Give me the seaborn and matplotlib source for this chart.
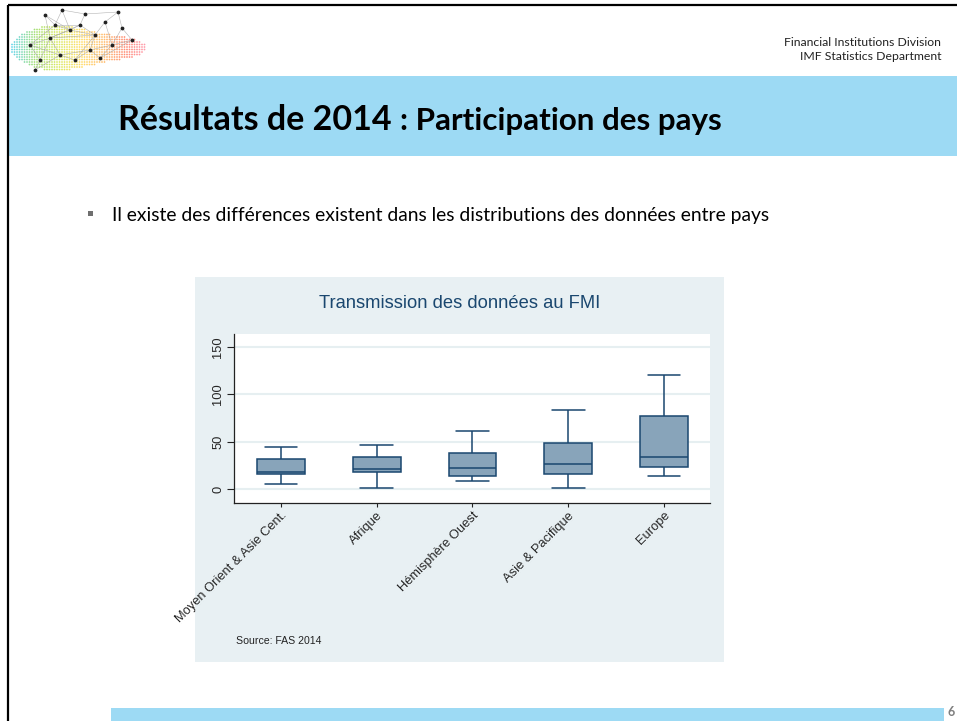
import numpy as np
import pandas as pd
import matplotlib as mpl
mpl.use('Agg')
import matplotlib.pyplot as plt
from matplotlib.colors import LinearSegmentedColormap
from matplotlib.patches import Rectangle
import seaborn as sns

# données (min, quartiles, max par région)
regions = ['Moyen Orient & Asie Cent.', 'Afrique', 'Hémisphère Ouest',
           'Asie & Pacifique', 'Europe']
val_min = [6, 1, 9, 1, 14]
val_q1 = [16, 18, 14, 16, 23]
val_median = [18, 21, 22, 27, 34]
val_q3 = [32, 34, 38, 49, 77]
val_max = [45, 47, 61, 84, 120]
yticks = [0, 50, 100, 150]

chart_title = 'Transmission des données au FMI'
source_note = 'Source: FAS 2014'
bullet_text = 'Il existe des différences existent dans les distributions des données entre pays'

# couleurs
band_blue = '#9ddaf4'
panel_bg = '#e8f0f3'
navy = '#1a476f'
box_fill = '#88a4ba'


def build_frame():
    """table longue pour seaborn : 5 valeurs par région -> quartiles exacts"""
    rows = []
    for i, reg in enumerate(regions):
        for v in (val_min[i], val_q1[i], val_median[i], val_q3[i], val_max[i]):
            rows.append({'region': reg, 'value': v})
    return pd.DataFrame(rows)


def draw_logo(bg):
    """petit logo réseau en haut à gauche (approximation)"""
    cmap = LinearSegmentedColormap.from_list(
        'logo', ['#1fc2e0', '#7fd23a', '#c8e01e', '#ffd02a', '#ffa030', '#ff5a3c', '#ff7aa0'])
    xs, ys, cs = [], [], []
    for x in np.arange(12, 150, 2.5):
        for y in np.arange(22, 74, 2.5):
            cx, cy = 78, 48
            if ((x - cx) / 68) ** 2 + ((y - cy) / (20 + 5 * np.sin(x / 25))) ** 2 < 1:
                xs.append(x)
                ys.append(y)
                cs.append(cmap((x - 12) / 138))
    bg.scatter(xs, ys, s=1.6, c=cs, alpha=0.7, linewidths=0, zorder=2)
    nodes = [(30, 45), (45, 15), (50, 38), (62, 10), (70, 30), (80, 25), (85, 14),
             (95, 35), (105, 22), (112, 45), (122, 28), (132, 40), (60, 55),
             (75, 60), (40, 60), (90, 50), (55, 25), (100, 58), (118, 12), (35, 70)]
    pairs = [(0, 2), (2, 4), (1, 2), (3, 4), (4, 5), (5, 6), (5, 7), (7, 8), (8, 9),
             (9, 10), (10, 11), (2, 12), (12, 13), (0, 14), (13, 15), (7, 15), (16, 4),
             (16, 1), (15, 17), (8, 18), (6, 18), (14, 19), (12, 19), (2, 7), (0, 16),
             (11, 17), (3, 16), (12, 15), (4, 7), (9, 17), (1, 4), (2, 5), (0, 12),
             (14, 2), (13, 7), (5, 16), (3, 6), (10, 18), (9, 11), (15, 9)]
    for a, b in pairs:
        bg.plot([nodes[a][0], nodes[b][0]], [nodes[a][1], nodes[b][1]],
                color='#a0a0a0', lw=0.4, alpha=0.8, zorder=3)
    bg.scatter([n[0] for n in nodes], [n[1] for n in nodes], s=3, color='#222222', zorder=4)


def main():
    df = build_frame()

    sns.set_theme(style='white')
    plt.rcParams['font.family'] = ['Liberation Sans', 'DejaVu Sans']

    fig = plt.figure(figsize=(9.57, 7.21), dpi=100)

    # fond de la diapositive en coordonnées pixels
    bg = fig.add_axes([0, 0, 1, 1])
    bg.set_xlim(0, 957)
    bg.set_ylim(721, 0)
    bg.axis('off')

    bg.plot([8, 8], [5, 721], color='black', lw=1.6, solid_capstyle='butt')
    bg.plot([8, 957], [5, 5], color='black', lw=1.6, solid_capstyle='butt')
    draw_logo(bg)

    bg.text(941, 42, 'Financial Institutions Division', ha='right', va='center',
            fontsize=8.8, family='Lato', color='#222222')
    bg.text(941, 57, 'IMF Statistics Department', ha='right', va='center',
            fontsize=8.8, family='Lato', color='#222222')

    bg.add_patch(Rectangle((9, 76), 948, 80, color=band_blue, lw=0))
    t1 = bg.text(118, 130, 'Résultats de 2014', ha='left', va='baseline',
                 fontsize=24.5, fontweight='bold', family='Lato', color='black')
    fig.canvas.draw()
    x_end = t1.get_window_extent(fig.canvas.get_renderer()).x1
    bg.text(x_end + 8, 130, ': Participation des pays', ha='left', va='baseline',
            fontsize=22.6, fontweight='bold', family='Lato', color='black')

    bg.add_patch(Rectangle((87.5, 211), 5, 5, color='#6f6f6f', lw=0))
    bg.text(112, 215, bullet_text, ha='left', va='center',
            fontsize=13.85, family='Lato', color='black')

    # panneau du graphique
    bg.add_patch(Rectangle((195, 277), 529, 385, color=panel_bg, lw=0))
    bg.text(459.5, 303, chart_title, ha='center', va='center',
            fontsize=13.2, color=navy)
    bg.text(236, 641, source_note, ha='left', va='center', fontsize=7.6, color='#222222')

    # barre du bas + numéro de page
    bg.add_patch(Rectangle((111, 708), 833, 13, color=band_blue, lw=0))
    bg.text(951, 712, '6', ha='center', va='center', fontsize=9,
            fontweight='bold', family='Lato', color='#7f7f7f')

    # boîtes à moustaches
    ax = fig.add_axes([234 / 957, 1 - 502.7 / 721, (710 - 234) / 957, (502.7 - 334) / 721])
    ax.set_facecolor('white')
    sns.boxplot(data=df, x='region', y='value', order=regions, ax=ax,
                color=box_fill, linecolor=navy, linewidth=1.1, width=0.5,
                saturation=1, whis=1.5)

    # moustaches plus larges (comme Stata)
    for ln in ax.lines:
        xd, yd = np.asarray(ln.get_xdata(), float), np.asarray(ln.get_ydata(), float)
        if len(xd) == 2 and yd[0] == yd[1] and abs(abs(xd[1] - xd[0]) - 0.25) < 1e-6:
            c = xd.mean()
            ln.set_xdata([c - 0.17, c + 0.17])

    ax.set_xlim(-0.49, 4.48)
    ax.set_ylim(-14.1, 163.7)
    ax.set_yticks(yticks)
    ax.set_yticklabels([str(t) for t in yticks], rotation=90, va='center')
    ax.set_xticks(range(len(regions)))
    ax.set_xticklabels(regions, rotation=45, ha='right', va='top', rotation_mode='anchor')
    ax.set_xlabel('')
    ax.set_ylabel('')
    ax.yaxis.grid(True, color='#e6eff1', lw=1.5)
    ax.set_axisbelow(True)
    sns.despine(ax=ax)
    for side in ('left', 'bottom'):
        ax.spines[side].set_color('#222222')
        ax.spines[side].set_linewidth(0.9)
    ax.tick_params(axis='y', length=5, width=0.8, color='#222222', labelsize=9.3,
                   pad=2, left=True)
    ax.tick_params(axis='x', length=3, width=0.8, color='#222222', labelsize=9.3,
                   pad=2, bottom=True)

    fig.savefig('out.png', dpi=100)


if __name__ == '__main__':
    main()
